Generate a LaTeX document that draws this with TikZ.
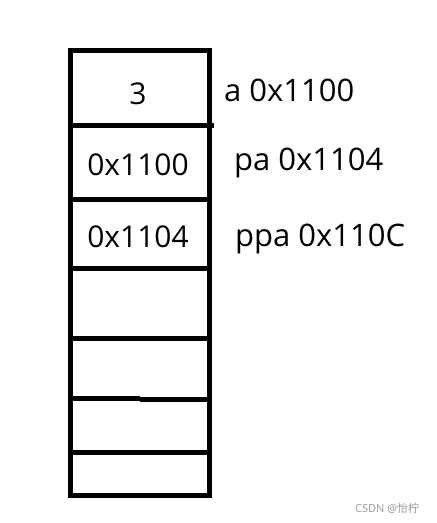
\documentclass[tikz,border=0pt]{standalone}
\usepackage{fontspec}
\setmainfont{Open Sans}
\newfontfamily\cjkfont{Noto Sans CJK SC}
\begin{document}
\begin{tikzpicture}[x=1pt,y=-1pt,
  wall/.style={line width=5pt, line cap=rect},
  celltext/.style={anchor=base, inner sep=0pt, font=\fontsize{30}{30}\selectfont},
  addr/.style={anchor=base west, inner sep=0pt, font=\fontsize{31}{31}\selectfont}]
\useasboundingbox (0,0) rectangle (437,523);
\fill[white] (0,0) rectangle (437,523);
% outer frame
\draw[wall] (70.5,50.5) rectangle (209.5,495);
% separators
\draw[wall] (70.5,125) -- (211,125);
\draw[wall] (70.5,199.5) -- (209.5,199.5);
\draw[wall] (70.5,268) -- (209.5,268);
\draw[wall] (70.5,338.5) -- (209.5,338.5);
\draw[line width=5pt] (70.5,398.5) -- (140,398.5);
\draw[line width=5pt] (140,399.5) -- (209.5,399.5);
\draw[wall] (70.5,452.5) -- (209.5,452.5);
% cell contents
\node[celltext] (c1) at (138,104) {3};
\node[celltext] (c2) at (138,175) {0x1100};
\node[celltext] (c3) at (138,247) {0x1104};
% address labels
\node[addr] (l1) at (224,101) {a 0x1100};
\node[addr] (l2) at (234,170) {pa 0x1104};
\node[addr] (l3) at (235,246) {ppa 0x110C};
% watermark
\node[anchor=base west, inner sep=0pt, text=black!40, font=\fontsize{11}{11}\selectfont] (wm) at (355,512) {CSDN @{\cjkfont 怡柠}};
\end{tikzpicture}
\end{document}
